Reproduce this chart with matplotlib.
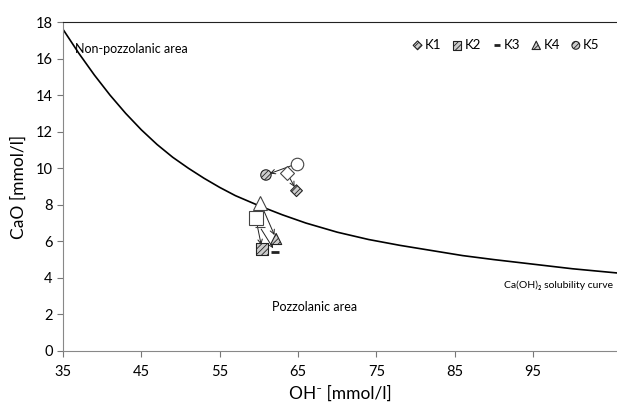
import matplotlib
matplotlib.use("Agg")
import matplotlib.pyplot as plt
import numpy as np

plt.rcParams['font.family'] = ['Lato', 'DejaVu Sans']
plt.rcParams['hatch.linewidth'] = 0.6

# solubility curve
curve_oh = [35, 37, 39, 41, 43, 45, 47, 49, 51, 53, 55, 57, 60, 63, 66, 70, 74, 78,
            82, 86, 90, 95, 100, 105.7]
curve_cao = [17.6, 16.3, 15.1, 14.0, 13.0, 12.1, 11.3, 10.6, 10.0, 9.45, 8.95, 8.5,
             7.95, 7.45, 7.0, 6.5, 6.1, 5.78, 5.5, 5.22, 5.0, 4.75, 4.5, 4.27]

samples = ["K1", "K2", "K3", "K4", "K5"]
start_oh = [63.6, 59.6, 60.1, 60.2, 64.8]
start_cao = [9.74, 7.27, 6.8, 8.1, 10.24]
end_oh = [64.8, 60.4, 62.1, 62.2, 60.9]
end_cao = [8.77, 5.58, 5.43, 6.13, 9.63]
markers = ["D", "s", "_", "^", "o"]
msizes = [6, 8, 6, 8, 7.5]

fig = plt.figure(figsize=(6.17, 4.03), dpi=100)
ax = fig.add_axes([63/617, 52/403, 1 - 63/617, 329/403])

ax.plot(curve_oh, curve_cao, color='black', lw=1.2, zorder=2)

for i in range(len(samples)):
    ax.annotate("", xy=(end_oh[i], end_cao[i]), xytext=(start_oh[i], start_cao[i]),
                arrowprops=dict(arrowstyle='->', lw=0.7, color='#222222',
                                shrinkA=2, shrinkB=3, mutation_scale=8), zorder=3)
    ax.plot(start_oh[i], start_cao[i], marker=markers[i], ms=msizes[i] + 1.5,
            mfc='white', mec='#444444', mew=0.8, ls='none', zorder=4)
    if markers[i] == "_":
        ax.scatter(end_oh[i], end_cao[i], marker="_", s=msizes[i] ** 2,
                   color='#222222', lw=2, zorder=5, label=samples[i])
    else:
        ax.scatter(end_oh[i], end_cao[i], marker=markers[i], s=msizes[i] ** 2,
                   facecolor='#cccccc', edgecolor='#222222', hatch='//////',
                   lw=0.8, zorder=5, label=samples[i])

ax.set_xlim(35, 105.7)
ax.set_ylim(0, 18)
ax.set_xticks([35, 45, 55, 65, 75, 85, 95])
ax.set_yticks(np.arange(0, 19, 2))
ax.tick_params(axis='both', labelsize=10.5, color='#777777', direction='out', length=4)
ax.tick_params(axis='x', pad=6)
for s in ['left', 'bottom']:
    ax.spines[s].set_color('#888888')
ax.spines['top'].set_color('#222222')
ax.spines['right'].set_visible(False)

ax.set_xlabel("OH⁻ [mmol/l]", fontsize=12.5, labelpad=5)
ax.set_ylabel("CaO [mmol/l]", fontsize=12.5, labelpad=6)

ax.text(36.5, 16.5, "Non-pozzolanic area", fontsize=9, va='center')
ax.text(61.7, 2.4, "Pozzolanic area", fontsize=9, va='center')
ax.text(105.2, 3.6, "Ca(OH)₂ solubility curve", fontsize=7.5, ha='right', va='center')

ax.legend(loc='upper right', ncol=5, frameon=False, fontsize=9.5,
          handletextpad=0.05, columnspacing=0.7, handlelength=1.0,
          markerscale=0.75, bbox_to_anchor=(0.99, 0.985))

fig.savefig("out.png", dpi=100)
